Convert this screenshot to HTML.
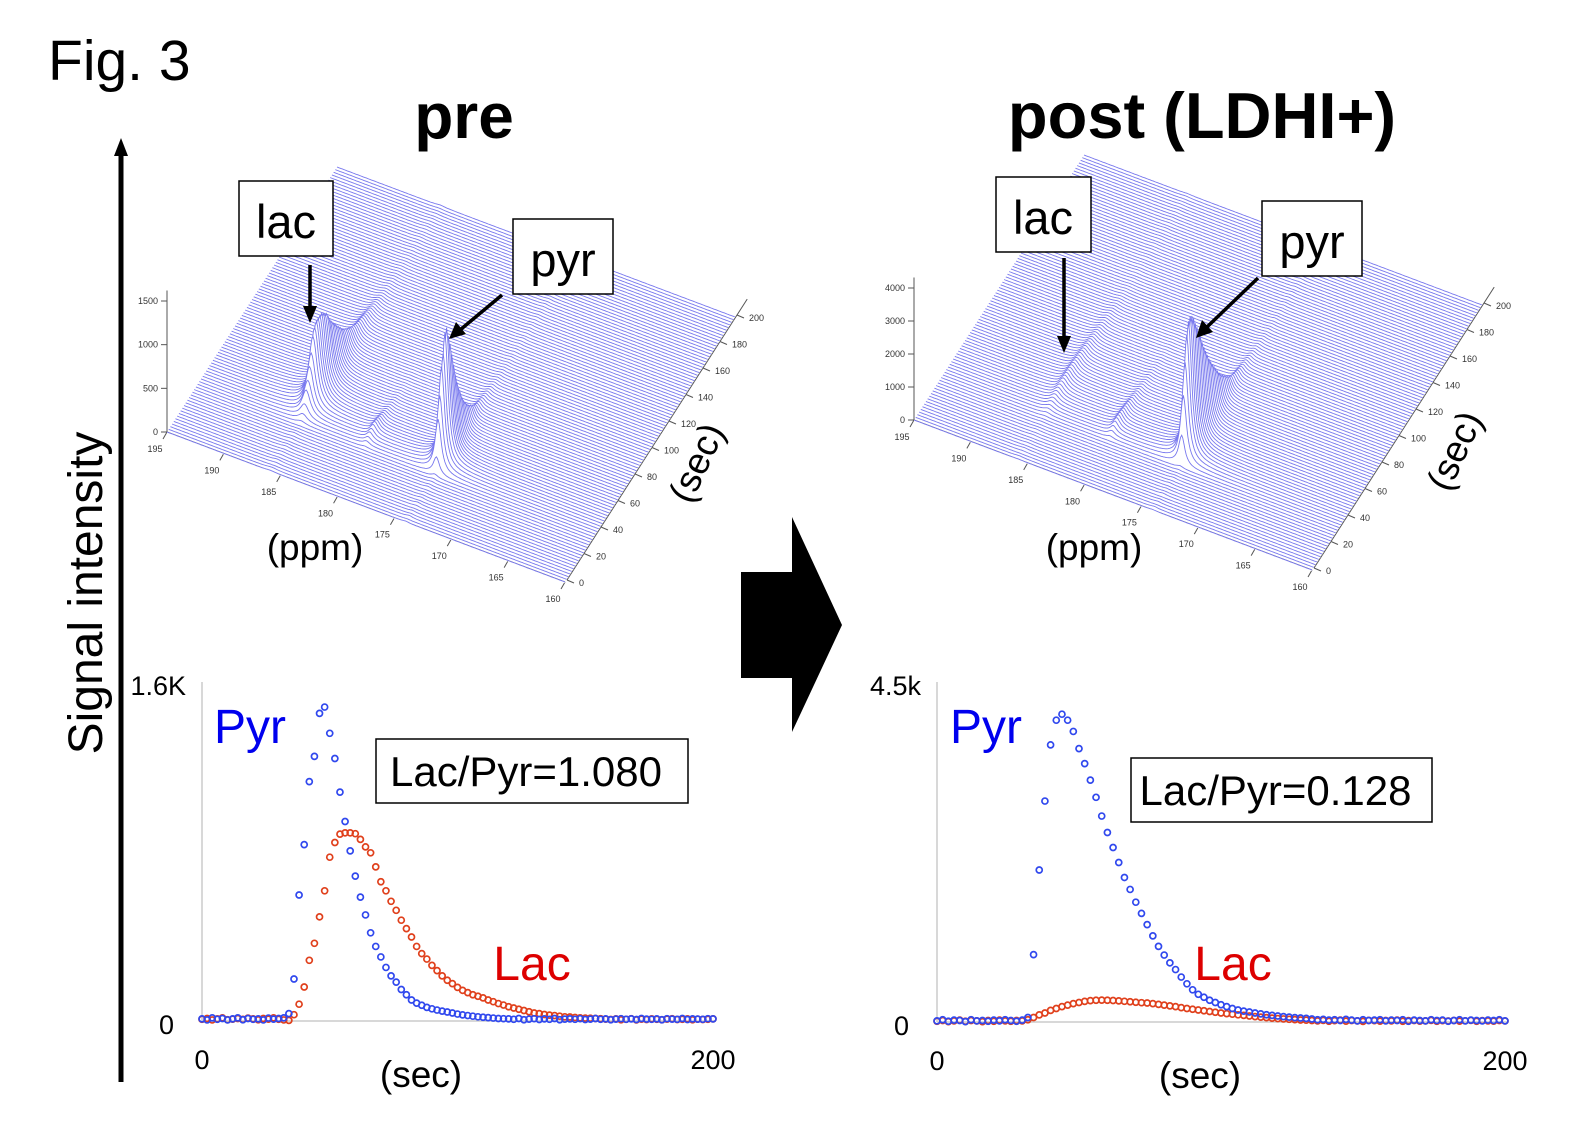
<!DOCTYPE html>
<html><head><meta charset="utf-8">
<style>
html,body{margin:0;padding:0;background:#fff;}
svg{display:block;font-family:"Liberation Sans",Arial,sans-serif;}
</style></head>
<body>
<svg id="fig" width="1569" height="1134" viewBox="0 0 1569 1134" xmlns="http://www.w3.org/2000/svg">
<rect width="1569" height="1134" fill="#fff"/>
<text x="48" y="80" font-size="57">Fig. 3</text>
<text x="464" y="138" font-size="64" font-weight="bold" text-anchor="middle">pre</text>
<text x="1202" y="138" font-size="65" font-weight="bold" text-anchor="middle">post (LDHI+)</text>

<g>
<line x1="121" y1="1082" x2="121" y2="152" stroke="#000" stroke-width="5"/>
<polygon points="121,138 114,156 128,156" fill="#000"/>
</g>
<text transform="translate(102,593) rotate(-90)" font-size="48" text-anchor="middle">Signal intensity</text>

<polygon points="741,572 792,572 792,517 842,625 792,732 792,678 741,678" fill="#000"/>

<g id="wfL"></g>
<g id="wfR"></g>

<g>
<rect x="239" y="181" width="94" height="75" fill="#fff" stroke="#000" stroke-width="1.5"/>
<text x="286" y="238" font-size="47" text-anchor="middle">lac</text>
<line x1="310" y1="265" x2="310" y2="308" stroke="#000" stroke-width="3.5"/>
<polygon points="310,323 303,306 317,306" fill="#000"/>
</g>
<g>
<rect x="513" y="219" width="100" height="75" fill="#fff" stroke="#000" stroke-width="1.5"/>
<text x="563" y="276" font-size="47" text-anchor="middle">pyr</text>
<line x1="502" y1="295" x2="460" y2="330" stroke="#000" stroke-width="3.5"/>
<polygon points="449,339 456,322 466,334" fill="#000"/>
</g>
<text x="315" y="560" font-size="37" text-anchor="middle">(ppm)</text>
<text transform="translate(708,468) rotate(-65)" font-size="37" text-anchor="middle">(sec)</text>

<g>
<rect x="996" y="177" width="95" height="75" fill="#fff" stroke="#000" stroke-width="1.5"/>
<text x="1043" y="234" font-size="47" text-anchor="middle">lac</text>
<line x1="1064" y1="258" x2="1064" y2="338" stroke="#000" stroke-width="3.5"/>
<polygon points="1064,353 1057,336 1071,336" fill="#000"/>
</g>
<g>
<rect x="1262" y="201" width="100" height="75" fill="#fff" stroke="#000" stroke-width="1.5"/>
<text x="1312" y="258" font-size="47" text-anchor="middle">pyr</text>
<line x1="1258" y1="278" x2="1207" y2="327" stroke="#000" stroke-width="3.5"/>
<polygon points="1196,338 1202,320 1213,332" fill="#000"/>
</g>
<text x="1094" y="560" font-size="37" text-anchor="middle">(ppm)</text>
<text transform="translate(1466,456) rotate(-65)" font-size="37" text-anchor="middle">(sec)</text>

<g id="tcL"></g>
<g id="tcR"></g>
</svg>

<script>
// time step 2 s, t = 0..200 (101 samples)
const pyrPre = [10,5,15,8,12,5,10,15,6,12,8,10,5,14,9,12,15,
35,200,600,840,1140,1260,1465,1495,1370,1250,1090,950,810,690,590,505,420,355,305,255,215,185,150,125,100,85,75,65,58,52,47,43,38,33,29,26,23,20,18,16,14,12,11,
10,8,12,6,9,11,7,10,8,12,6,9,10,8,11,7,9,12,8,10,6,9,11,8,10,7,12,9,8,10,6,11,9,8,12,7,10,9,8,11,10];
const lacPre = [8,12,5,10,15,6,9,12,8,14,10,6,12,9,15,8,5,3,
30,80,162,289,370,496,620,780,850,890,896,896,892,865,829,801,734,663,620,570,527,480,440,400,355,321,295,265,240,215,194,178,160,146,135,125,118,110,100,92,83,76,68,62,56,50,44,38,35,31,28,26,23,20,19,17,15,14,13,12,11,
9,7,10,6,8,11,5,9,7,10,8,6,9,11,7,8,10,6,9,7,8,10];
const pyrPost = [15,30,10,25,20,5,30,15,20,10,25,15,30,20,10,25,
60,900,2030,2950,3700,4030,4110,4030,3880,3650,3450,3230,3000,2750,2530,2330,2130,1930,1770,1600,1450,1300,1150,1010,894,790,700,600,510,430,370,330,290,260,230,205,180,160,145,134,120,108,97,88,80,72,65,58,53,48,
40,30,35,25,30,20,35,25,15,30,20,25,30,15,25,20,30,10,25,20,15,30,20,25,10,20,30,15,25,20,15,25,20,30,15];
const lacPost = [10,20,5,15,25,10,20,15,5,20,10,25,15,10,20,15,
30,60,95,120,155,180,205,225,245,260,275,285,290,292,290,287,282,276,270,264,258,254,245,235,225,215,205,192,180,170,160,150,140,130,120,112,104,96,88,80,72,65,58,52,46,41,36,32,27,24,
20,15,22,10,18,25,12,20,15,8,22,18,12,20,15,25,10,18,20,12,15,22,10,18,14,20,12,16,22,10,18,15,12,20,14];
const zTicksPre = [0,500,1000,1500];
const zTicksPost = [0,1000,2000,3000,4000];
const ppmTicks = [195,190,185,180,175,170,165,160];
const secTicks = [0,20,40,60,80,100,120,140,160,180,200];

const NS = "http://www.w3.org/2000/svg";
function mk(tag, attrs, parent){const e=document.createElementNS(NS,tag);for(const k in attrs)e.setAttribute(k,attrs[k]);parent.appendChild(e);return e;}

function lor(x,c,g){return 1/(1+((x-c)/g)*((x-c)/g));}

function waterfall(gid, O, zScale, zTicks, lac, pyr){
  const g=document.getElementById(gid);
  const P=[398,150], T=[170,-265];
  const lacPpm=185.9, pyrPpm=174.0, hydPpm=180.3;
  const N=lac.length;
  const proj=(ppm,t,z)=>{const f=(195-ppm)/35;return [O[0]+P[0]*f+T[0]*t/200, O[1]+P[1]*f+T[1]*t/200 - z*zScale];};
  const ax=mk('g',{},g);
  
  
  const zTop=proj(195,0,zTicks[zTicks.length-1]*1.08);
  mk('line',{x1:O[0],y1:O[1],x2:O[0],y2:zTop[1],stroke:'#555','stroke-width':1},ax);
  zTicks.forEach(v=>{const p=proj(195,0,v);
    mk('line',{x1:p[0]-6,y1:p[1],x2:p[0],y2:p[1],stroke:'#555'},ax);
    const t=mk('text',{x:p[0]-9,y:p[1]+3,'font-size':9,'text-anchor':'end',fill:'#333'},ax);t.textContent=v;});
  const e=proj(160,0,0);
  mk('line',{x1:O[0],y1:O[1],x2:e[0],y2:e[1],stroke:'#555'},ax);
  ppmTicks.forEach(v=>{const p=proj(v,0,0);
    mk('line',{x1:p[0],y1:p[1],x2:p[0]-4,y2:p[1]+7,stroke:'#555'},ax);
    const t=mk('text',{x:p[0]-12,y:p[1]+20,'font-size':9,'text-anchor':'middle',fill:'#333'},ax);t.textContent=v;});
  const s0=[e[0]+2,e[1]-2];
  mk('line',{x1:s0[0],y1:s0[1],x2:s0[0]+T[0]*1.06,y2:s0[1]+T[1]*1.06,stroke:'#555'},ax);
  secTicks.forEach(v=>{const x=s0[0]+T[0]*v/200,y=s0[1]+T[1]*v/200;
    mk('line',{x1:x,y1:y,x2:x+7,y2:y+3,stroke:'#555'},ax);
    const t=mk('text',{x:x+12,y:y+6,'font-size':9,fill:'#333'},ax);t.textContent=v;});
  const tr=mk('g',{},g);
  
  
  for(let i=N-1;i>=0;i--){
    const t=i*2; let d='';
    for(let k=0;k<=350;k++){
      const ppm=195-k*0.1;
      const z=lac[i]*lor(ppm,lacPpm,0.45)+pyr[i]*(lor(ppm,pyrPpm,0.33)+0.07*lor(ppm,hydPpm,0.35));
      const p=proj(ppm,t,z);
      d+=(k?'L':'M')+p[0].toFixed(1)+' '+p[1].toFixed(1);
    }
    const b1=proj(160,t,0),b0=proj(195,t,0);
    const fill=mk('path',{d:d+'L'+b1[0]+' '+(b1[1]+1)+'L'+b0[0]+' '+(b0[1]+1)+'Z',fill:'#fff',stroke:'none'},tr);
    
    
    const ln=mk('path',{d:d,fill:'none',stroke:'#7878ee','stroke-width':0.9},tr);
    
    
  }
}

function timecourse(gid, x0, x1, y0, y1, ymax, topLabel, ratio, box, pyrXY, lacXY, secX, lac, pyr){
  const g=document.getElementById(gid);
  const xs=t=>x0+(x1-x0)*t/200, ys=v=>y0-(y0-y1)*v/ymax;
  const ax=mk('g',{},g);
  
  
  mk('line',{x1:x0,y1:y1-3,x2:x0,y2:y0,stroke:'#ccc','stroke-width':1.5},ax);
  mk('line',{x1:x0,y1:y0,x2:x1+3,y2:y0,stroke:'#ccc','stroke-width':1.5},ax);
  let t=mk('text',{x:x0-16,y:y1+10,'font-size':27,'text-anchor':'end'},ax);t.textContent=topLabel;
  t=mk('text',{x:x0-28,y:y0+13,'font-size':27,'text-anchor':'end'},ax);t.textContent='0';
  t=mk('text',{x:x0,y:y0+48,'font-size':27,'text-anchor':'middle'},ax);t.textContent='0';
  t=mk('text',{x:x1,y:y0+48,'font-size':27,'text-anchor':'middle'},ax);t.textContent='200';
  t=mk('text',{x:secX,y:y0+66,'font-size':37,'text-anchor':'middle'},ax);t.textContent='(sec)';
  const lg=mk('g',{},g);
  
  
  lac.forEach((v,i)=>{const c=mk('circle',{cx:xs(i*2),cy:ys(v),r:3,fill:'none',stroke:'#e0401c','stroke-width':1.7},lg);
    
    });
  const pg=mk('g',{},g);
  
  
  pyr.forEach((v,i)=>{const c=mk('circle',{cx:xs(i*2),cy:ys(v),r:3,fill:'none',stroke:'#3048ee','stroke-width':1.7},pg);
    
    });
  const pl=mk('text',{x:pyrXY[0],y:pyrXY[1],'font-size':48,fill:'#0000ee','text-anchor':'middle'},g);pl.textContent='Pyr';
  
  
  const ll=mk('text',{x:lacXY[0],y:lacXY[1],'font-size':48,fill:'#dd0000','text-anchor':'middle'},g);ll.textContent='Lac';
  
  
  const bg=mk('g',{},g);
  
  
  mk('rect',{x:box[0],y:box[1],width:box[2],height:box[3],fill:'#fff',stroke:'#000','stroke-width':1.5},bg);
  t=mk('text',{x:box[0]+box[2]/2-6,y:box[1]+box[3]/2+15,'font-size':42,'text-anchor':'middle'},bg);t.textContent=ratio;
}

waterfall('wfL',[167,432],131/1500,zTicksPre,lacPre,pyrPre);
waterfall('wfR',[914,420],33/1000,zTicksPost,lacPost,pyrPost);
timecourse('tcL',202,713,1021,685,1600,'1.6K','Lac/Pyr=1.080',[376,739,312,64],[250,743],[532,980],421,lacPre,pyrPre);
timecourse('tcR',937,1505,1022,685,4500,'4.5k','Lac/Pyr=0.128',[1131,758,301,64],[986,743],[1233,980],1200,lacPost,pyrPost);
</script>
</body></html>
